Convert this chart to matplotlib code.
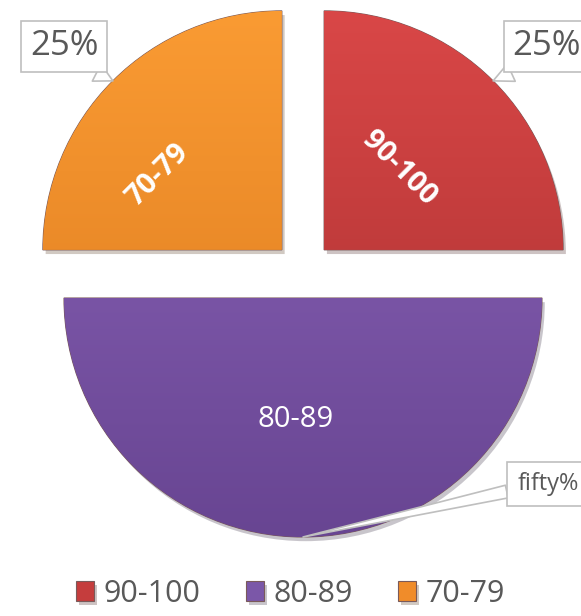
import matplotlib
matplotlib.use("Agg")
import matplotlib.pyplot as plt
import matplotlib.patheffects as pe
import numpy as np

# Daten
categories = ["90-100", "80-89", "70-79"]
shares = [25, 50, 25]
callout_texts = ["25%", "fifty%", "25%"]

plt.rcParams["font.family"] = ["Open Sans", "DejaVu Sans"]

colors_top = ["#d94747", "#8a63b8", "#fa9b33"]
colors_bottom = ["#a83030", "#684592", "#dc7a1e"]
colors_mid = ["#c53d3d", "#7b57a8", "#f08c2a"]

fig = plt.figure(figsize=(5.81, 6.16), dpi=100)
ax = fig.add_axes([0, 0, 1, 1])

wedges, _ = ax.pie(shares, startangle=90, counterclock=False, radius=1.0,
                   explode=[0.125, 0.113, 0.125], colors=colors_mid,
                   wedgeprops=dict(linewidth=0.8, edgecolor="#7a5a5a"))

# Pixel-Skala: 239 px pro Einheit, Mittelpunkt bei (303, 271)
s = 239.0

# Verlauf + Schatten je Segment
grad = np.linspace(0, 1, 256).reshape(-1, 1)
for w, ct, cb in zip(wedges, colors_top, colors_bottom):
    w.set_path_effects([pe.SimplePatchShadow(offset=(2, -3), alpha=0.25), pe.Normal()])
    cx, cy = w.center
    r = w.r
    cmap = matplotlib.colors.LinearSegmentedColormap.from_list("g", [cb, ct])
    im = ax.imshow(grad, cmap=cmap, origin="lower", aspect="auto",
                   extent=(cx - r, cx + r, cy - r, cy + r), zorder=w.get_zorder() + 0.1)
    im.set_clip_path(w)
ax.set_xlim(-303 / s, (581 - 303) / s)
ax.set_ylim((271 - 616) / s, 271 / s)
ax.set_aspect("auto")
ax.axis("off")

# Beschriftungen in den Segmenten
ax.text(0.40, 0.428, categories[0], rotation=-45, color="white", fontsize=21,
        fontweight="bold", ha="center", va="center", zorder=5)
ax.text(-0.03, -0.623, categories[1], color="white", fontsize=21,
        ha="center", va="center", zorder=5)
ax.text(-0.607, 0.402, categories[2], rotation=45, color="white", fontsize=21,
        fontweight="bold", ha="center", va="center", zorder=5)

# Callouts mit Prozentwerten
box_pos = [(1.02, 0.94), (1.025, -0.89), (-1.0, 0.94)]
box_size = [25, 17, 25]
box_pad = [0.25, 0.42, 0.25]
rel_pos = [(0.28, 0.0), (0.0, 0.27), (0.71, 0.0)]
tail_w = [0.55, 0.55, 0.55]
for w, txt, pos, fs, pad, rp, tw in zip(wedges, callout_texts, box_pos, box_size,
                                         box_pad, rel_pos, tail_w):
    mid = np.deg2rad((w.theta1 + w.theta2) / 2)
    cx, cy = w.center
    tip = (cx + w.r * np.cos(mid), cy + w.r * np.sin(mid))
    ax.annotate(txt, xy=tip, xytext=pos, fontsize=fs, color="#595959",
                ha="center", va="center", zorder=6,
                bbox=dict(boxstyle=f"square,pad={pad}", fc="white", ec="#bfbfbf", lw=1.2),
                arrowprops=dict(arrowstyle=f"wedge,tail_width={tw},shrink_factor=0.5",
                                fc="white", ec="#bfbfbf", lw=1.2, relpos=rp,
                                shrinkA=0, shrinkB=0))

# Legende
leg = ax.legend(wedges, categories, loc="lower center", bbox_to_anchor=(0.5, -0.008),
                ncol=3, frameon=False, fontsize=22, handlelength=0.59,
                handleheight=0.59, handletextpad=0.3, columnspacing=1.5,
                borderaxespad=0.0)
for t in leg.get_texts():
    t.set_color("#595959")

fig.savefig("out.png", dpi=100)
